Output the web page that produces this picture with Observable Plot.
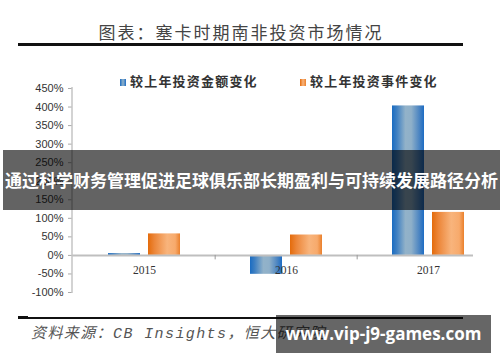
<!DOCTYPE html>
<html>
<head>
<meta charset="utf-8">
<script src="https://cdn.jsdelivr.net/npm/d3@7"></script>
<script src="https://cdn.jsdelivr.net/npm/@observablehq/plot@0.6"></script>
<style>
  html, body { margin: 0; padding: 0; background: #fff; }
  #wrap { position: relative; width: 500px; height: 362px; overflow: hidden; background: #fff; }
  #wrap svg { position: absolute; left: 0; top: 0; }
  .ov { position: absolute; white-space: nowrap; }
  #title { left: 0; width: 482px; top: 20px; height: 24px; line-height: 24px; text-align: center;
    font-family: "Noto Sans CJK SC", sans-serif; font-size: 17px; letter-spacing: 2px; color: #444; }
  #tline { left: 18px; top: 43px; width: 445px; height: 3px; background: #111; }
  .leg { top: 73px; height: 16px; line-height: 16px; font-family: "Noto Sans CJK SC", sans-serif;
    font-size: 13px; letter-spacing: 1.2px; color: #333; font-weight: bold; }
  .sw { display: inline-block; width: 6px; height: 7px; margin-right: 4px; vertical-align: 0px; }
  #bline { left: 18px; top: 316.5px; width: 445px; height: 2px; background: #111; }
  #bline2 { left: 18px; top: 315.5px; width: 10px; height: 3.5px; background: #111; }
  #src { left: 31px; top: 325px; height: 20px; line-height: 20px; font-style: italic;
    font-family: "Liberation Mono", "Noto Sans CJK SC", monospace; font-size: 15px; letter-spacing: 1.4px; color: #555; }
  #banner { left: 3px; top: 150px; width: 497px; height: 60px; background: rgba(0,0,0,0.61);
    color: #fff; font-family: "Noto Sans CJK SC", sans-serif; font-weight: bold; font-size: 17px;
    line-height: 60px; text-align: center; letter-spacing: 0px; }
  #wm { left: 276px; top: 315px; width: 215px; height: 38px; background: rgba(0,0,0,0.6);
    color: #fff; font-family: "Open Sans", "Noto Sans", sans-serif; font-weight: bold; font-size: 17px;
    line-height: 38px; text-align: center; }
</style>
</head>
<body>
<div id="wrap"></div>
<script>
// ---- data ----
const years = ["2015", "2016", "2017"];
const amountChange = [0.05, -0.51, 4.03];   // 较上年投资金额变化
const eventChange = [0.58, 0.55, 1.16];     // 较上年投资事件变化
const seriesNames = ["较上年投资金额变化", "较上年投资事件变化"];
const yTicks = [-1, -0.5, 0, 0.5, 1, 1.5, 2, 2.5, 3, 3.5, 4, 4.5];
const titleText = "图表：塞卡时期南非投资市场情况";
const sourceText = "资料来源：CB Insights，恒大研究院";
const bannerText = "通过科学财务管理促进足球俱乐部长期盈利与可持续发展路径分析";
const watermarkText = "www.vip-j9-games.com";

const amountData = years.map((y, i) => ({year: y, value: amountChange[i]}));
const eventData = years.map((y, i) => ({year: y, value: eventChange[i]}));

const pct = d => `${Math.round(d * 100)}%`;

const plot = Plot.plot({
  width: 500,
  height: 362,
  marginTop: 88,
  marginBottom: 70,
  marginLeft: 72,
  marginRight: 0,
  style: {background: "transparent", overflow: "visible"},
  x: {type: "band", domain: years, padding: 0, axis: null},
  y: {domain: [-1, 4.5], axis: null},
  marks: [
    Plot.axisY({ticks: yTicks, tickFormat: pct, tickSize: 4, tickPadding: 5, stroke: "#aaa",
      fill: "#333", fontSize: 11, fontFamily: "Liberation Sans, Arial, sans-serif", label: null}),
    Plot.barY(amountData, {x: "year", y: "value", fill: "url(#gBlue)", insetLeft: 35, insetRight: 75}),
    Plot.barY(eventData, {x: "year", y: "value", fill: "url(#gOrange)", insetLeft: 75, insetRight: 35}),
    Plot.ruleY([0], {stroke: "#bfbfbf", strokeWidth: 2, insetRight: 27}),
    Plot.ruleX(years.slice(1), {x: d => d, y1: 0, y2: -0.12, dx: -71.33, stroke: "#999"}),
    Plot.text(years, {x: d => d, y: () => 0, dy: 15, text: d => d, fill: "#333", fontSize: 11.5,
      fontFamily: "Liberation Serif, Times New Roman, serif"})
  ]
});

document.getElementById("wrap").appendChild(plot);

// gradient definitions for bar fills
const svg = d3.select(plot);
const defs = svg.insert("defs", ":first-child");
const gB = defs.append("linearGradient").attr("id", "gBlue").attr("x1", 0).attr("x2", 1).attr("y1", 0).attr("y2", 0);
[[0, "#1a6cc2"], [0.15, "#3f80c2"], [0.42, "#92b2c9"], [0.6, "#8fb0c9"], [0.85, "#4c85c2"], [1, "#1d6cc3"]]
  .forEach(([o, c]) => gB.append("stop").attr("offset", o).attr("stop-color", c));
const gO = defs.append("linearGradient").attr("id", "gOrange").attr("x1", 0).attr("x2", 1).attr("y1", 0).attr("y2", 0);
[[0, "#e46b0b"], [0.2, "#ec8639"], [0.6, "#f8b47c"], [0.85, "#f7aa6c"], [1, "#ea802c"]]
  .forEach(([o, c]) => gO.append("stop").attr("offset", o).attr("stop-color", c));

// y axis line using the plot's y scale
const ys = plot.scale("y");
svg.append("line")
  .attr("x1", 72).attr("x2", 72)
  .attr("y1", ys.apply(4.5) - 1).attr("y2", ys.apply(-1) + 1)
  .attr("stroke", "#c4c4c4").attr("stroke-width", 1.5);

// overlays: title, legend, source, banner, watermark
const wrap = document.getElementById("wrap");
function add(id, cls, html, style) {
  const d = document.createElement("div");
  if (id) d.id = id;
  d.className = "ov " + (cls || "");
  d.innerHTML = html || "";
  if (style) Object.assign(d.style, style);
  wrap.appendChild(d);
  return d;
}
add("title", "", titleText);
add("tline", "", "");
add(null, "leg", `<span class="sw" style="background:linear-gradient(90deg,#1a6cc2,#92b2c9,#1d6cc3)"></span>${seriesNames[0]}`, {left: "120px"});
add(null, "leg", `<span class="sw" style="background:linear-gradient(90deg,#e46b0b,#f8b47c,#ea802c)"></span>${seriesNames[1]}`, {left: "300px"});
add("bline", "", "");
add("bline2", "", "");
add("src", "", sourceText);
add("banner", "", bannerText);
add("wm", "", watermarkText);
</script>
</body>
</html>
